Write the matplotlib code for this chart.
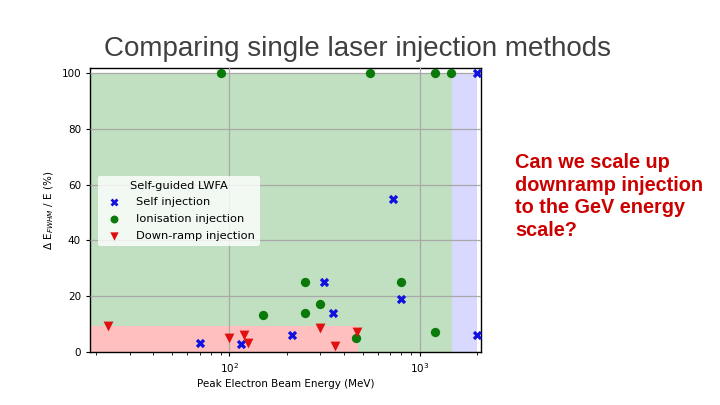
import matplotlib
matplotlib.use("Agg")
import matplotlib.pyplot as plt

# Data
self_E = [2000, 720, 315, 350, 800, 213, 70, 115, 2000]
self_dE = [100, 55, 25, 14, 19, 6, 3, 2.6, 6]

ion_E = [90, 550, 1200, 1450, 250, 800, 300, 250, 150, 460, 1200]
ion_dE = [100, 100, 100, 100, 25, 25, 17, 14, 13, 5, 7]

ramp_E = [23, 100, 120, 125, 300, 360, 470]
ramp_dE = [9.3, 4.8, 6, 3.2, 8.5, 2, 7.2]

title = "Comparing single laser injection methods"
note = "Can we scale up\ndownramp injection\nto the GeV energy\nscale?"

fig = plt.figure(figsize=(7.2, 4.05), dpi=100)
fig.patch.set_facecolor("white")
ax = fig.add_axes([0.125, 0.1316, 0.543, 0.70])

ax.set_xscale("log")
ax.set_xlim(18.6, 2090)
ax.set_ylim(0, 101.8)

# shaded regions
ax.fill_between([1, 1470], 0, 100, color=(0.757, 0.875, 0.757), lw=0, zorder=0)
ax.fill_between([1470, 2000], 0, 100, color=(0.85, 0.85, 1.0), lw=0, zorder=0)
ax.fill_between([1, 475], 0, 9.4, color=(1.0, 0.75, 0.75), lw=0, zorder=0.5)

ax.grid(True, which="major", color="#a8a8a8", lw=0.9, zorder=1)
ax.set_axisbelow(False)

ax.scatter(self_E, self_dE, marker="X", s=45, color="#1010e0", label="Self injection", zorder=3, lw=0)
ax.scatter(ion_E, ion_dE, marker="o", s=45, color="#0a7a0a", label="Ionisation injection", zorder=3, lw=0)
ax.scatter(ramp_E, ramp_dE, marker="v", s=50, color="#e01010", label="Down-ramp injection", zorder=3, lw=0)

ax.set_yticks([0, 20, 40, 60, 80, 100])
ax.tick_params(labelsize=7.5, length=3, colors="black")
ax.tick_params(which="minor", length=2)
for s in ax.spines.values():
    s.set_color("black")
    s.set_linewidth(1.0)

ax.set_xlabel("Peak Electron Beam Energy (MeV)", fontsize=7.5, labelpad=3)
ax.set_ylabel(r"$\Delta$ E$_{FWHM}$ / E (%)", fontsize=7.5, labelpad=4)

leg = ax.legend(title="Self-guided LWFA", loc="upper left", bbox_to_anchor=(0.005, 0.64),
                fontsize=8.2, title_fontsize=8.2, frameon=True, framealpha=0.8,
                edgecolor="none", facecolor="white", borderpad=0.4, handletextpad=1.0,
                labelspacing=0.6, fancybox=True, markerscale=0.85)
leg.set_zorder(4)

fig.text(0.144, 0.88, title, fontsize=20, color="#404040", family="Liberation Sans",
         ha="left", va="center")
fig.text(0.715, 0.515, note, fontsize=14.3, color="#cc0000", family="Liberation Sans",
         fontweight="bold", ha="left", va="center", linespacing=1.25)

fig.savefig("out.png", dpi=100)
